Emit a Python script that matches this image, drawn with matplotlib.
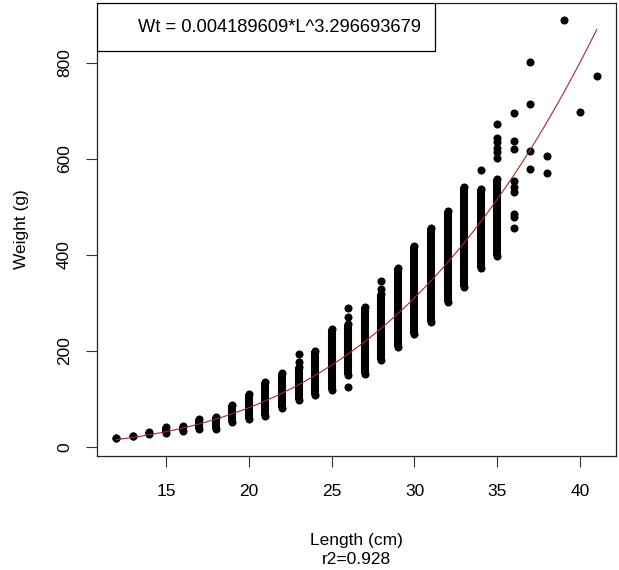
import numpy as np
import matplotlib
matplotlib.use('Agg')
import matplotlib.pyplot as plt
from matplotlib.patches import Rectangle

plt.rcParams['font.family'] = ['Liberation Sans', 'DejaVu Sans']

# fitted model from the legend
a_coef = 0.004189609
b_coef = 3.296693679
r2 = 0.928

# lengths where the weights form a dense column of points (min / max weight)
col_len = [12, 13, 14, 15, 16, 17, 18, 19, 20, 21, 22, 23, 24, 25, 26, 27,
           28, 29, 30, 31, 32, 33, 34, 35]
col_lo = [18, 23, 26, 28, 34, 38, 38, 52, 57, 65, 80, 97, 107, 118, 149, 152,
          180, 208, 235, 260, 301, 332, 372, 398]
col_hi = [18, 23, 31, 42, 44, 57, 63, 88, 111, 135, 154, 166, 199, 246, 256, 291,
          318, 372, 418, 455, 491, 541, 537, 557]

# separate points (outside the dense columns)
pt_len = [23, 23, 26, 26, 26, 28, 28, 34,
          35, 35, 35, 35, 35, 35,
          36, 36, 36, 36, 36, 36, 36, 36, 36,
          37, 37, 37, 37, 38, 38, 39, 40, 41]
pt_wt = [176, 194, 125, 270, 289, 329, 346, 576,
         602, 613, 623, 634, 644, 672,
         455, 478, 485, 530, 542, 554, 620, 637, 696,
         578, 616, 713, 801, 571, 605, 889, 697, 772]

fig = plt.figure(figsize=(6.19, 5.70), dpi=100)
ax = fig.add_axes([97/619, 1 - 456/570, 519/619, 453/570])

ms = 5.8
for L, lo, hi in zip(col_len, col_lo, col_hi):
    ax.plot([L, L], [lo, hi], color='black', lw=ms, solid_capstyle='butt', zorder=2)
ax.plot(col_len + col_len, col_lo + col_hi, 'o', color='black', ms=ms, mew=0, zorder=2)
ax.plot(pt_len, pt_wt, 'o', color='black', ms=ms, mew=0, zorder=2)

# fitted curve
xs = np.linspace(min(col_len), max(pt_len), 200)
ax.plot(xs, a_coef * xs ** b_coef, color='#a52a2a', lw=0.8, zorder=3)

ax.set_xlim(10.84, 42.16)
ax.set_ylim(-19, 924)
ax.set_xticks([15, 20, 25, 30, 35, 40])
ax.set_yticks([0, 200, 400, 600, 800])
ax.tick_params(axis='both', labelsize=12.5, length=8, width=0.8, color='#333333')
ax.tick_params(axis='x', pad=12)
ax.tick_params(axis='y', pad=10)
plt.setp(ax.get_yticklabels(), rotation=90, va='center')
for s in ax.spines.values():
    s.set_linewidth(0.9)
    s.set_color('#222222')

ax.set_xlabel('Length (cm)\nr2=' + str(r2), fontsize=12.5, labelpad=25, linespacing=1.25)
ax.set_ylabel('Weight (g)', fontsize=12.5, labelpad=20)

# legend box in the top-left corner (R style: blank symbol slot on the left)
ax.add_patch(Rectangle((0, 1 - 48/453), 338/519, 48/453, transform=ax.transAxes,
                       facecolor='white', edgecolor='black', lw=0.9, zorder=4))
ax.text(41/519, 1 - 24/453, 'Wt = ' + str(a_coef) + '*L^' + str(b_coef),
        transform=ax.transAxes, fontsize=13.2, ha='left', va='center', zorder=5)

fig.savefig('out.png', dpi=100)
